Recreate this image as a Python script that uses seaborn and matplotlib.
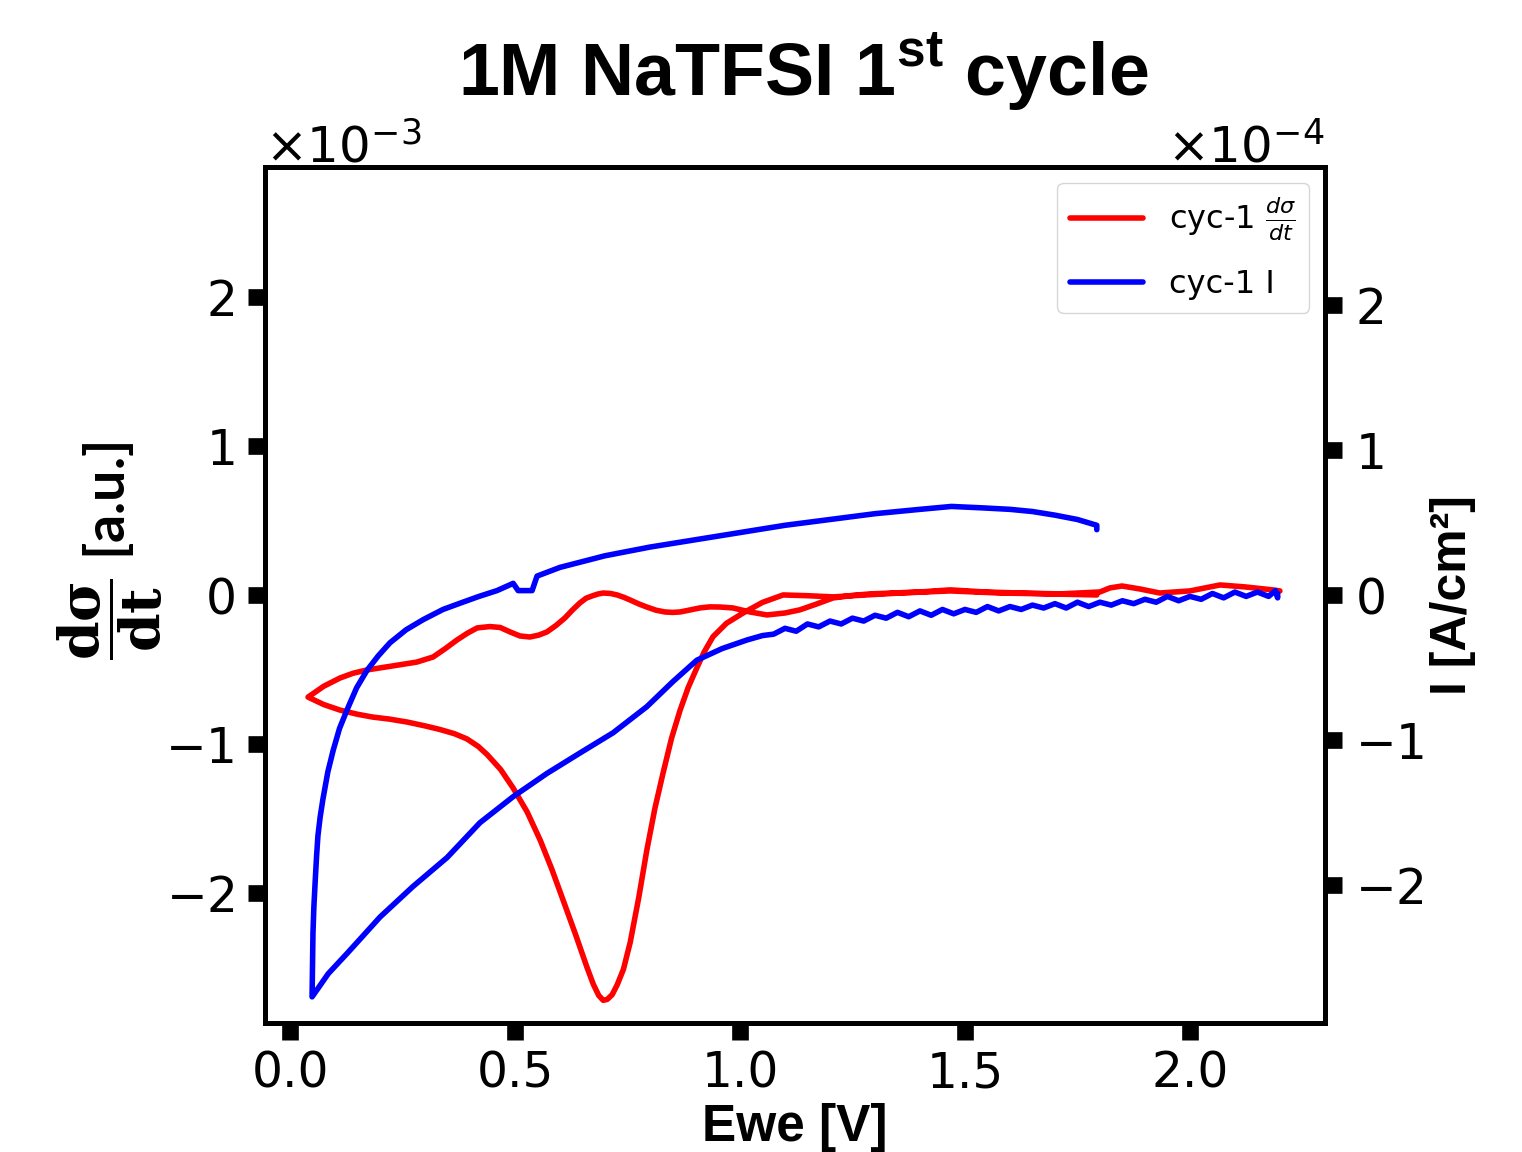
import matplotlib
matplotlib.use("Agg")
import matplotlib.pyplot as plt
import seaborn as sns
import pandas as pd
from matplotlib.ticker import ScalarFormatter

# ---- dσ/dt (x1e-3 a.u.) ----
# cathodic scan, written from 0.05 V upwards (reversed when plotted)
red_cath_v = [0.040, 0.075, 0.111, 0.140, 0.171, 0.230, 0.282, 0.318, 0.345, 0.371,
              0.395, 0.416, 0.444, 0.467, 0.489, 0.511, 0.533, 0.552, 0.571, 0.591,
              0.611, 0.628, 0.644, 0.658, 0.671, 0.684, 0.696, 0.712, 0.727, 0.742,
              0.756, 0.775, 0.793, 0.813, 0.833, 0.850, 0.867, 0.890, 0.911, 0.933,
              0.956, 0.984, 1.022, 1.060, 1.100, 1.133, 1.171, 1.207, 1.250, 1.289,
              1.340, 1.400, 1.467, 1.544, 1.622, 1.711, 1.800, 1.822, 1.849, 1.889,
              1.933, 2.000, 2.067, 2.122, 2.184, 2.200]
red_cath_s = [-0.685, -0.612, -0.557, -0.525, -0.503, -0.475, -0.450, -0.416, -0.360, -0.302,
              -0.255, -0.221, -0.212, -0.218, -0.248, -0.275, -0.282, -0.270, -0.248, -0.205,
              -0.154, -0.100, -0.054, -0.022, -0.007, 0.006, 0.013, 0.010, 0.000, -0.016,
              -0.034, -0.060, -0.081, -0.102, -0.114, -0.117, -0.114, -0.100, -0.087, -0.080,
              -0.081, -0.087, -0.114, -0.134, -0.121, -0.100, -0.060, -0.020, -0.003, 0.007,
              0.013, 0.020, 0.034, 0.020, 0.013, 0.007, 0.020, 0.047, 0.060, 0.040,
              0.013, 0.027, 0.067, 0.054, 0.034, 0.027]
# anodic scan from 0.05 V to 1.8 V
red_anod_v = [0.040, 0.075, 0.111, 0.150, 0.184, 0.220, 0.260, 0.300, 0.333, 0.365,
              0.393, 0.418, 0.438, 0.468, 0.496, 0.527, 0.556, 0.582, 0.607, 0.635,
              0.660, 0.674, 0.686, 0.696, 0.705, 0.716, 0.727, 0.741, 0.756, 0.775,
              0.793, 0.811, 0.829, 0.848, 0.867, 0.885, 0.904, 0.920, 0.940, 0.970,
              1.007, 1.050, 1.096, 1.150, 1.207, 1.280, 1.356, 1.467, 1.578, 1.689, 1.793]
red_anod_s = [-0.685, -0.735, -0.772, -0.800, -0.819, -0.832, -0.852, -0.878, -0.902, -0.930,
              -0.965, -1.015, -1.070, -1.170, -1.295, -1.455, -1.644, -1.840, -2.047, -2.280,
              -2.497, -2.610, -2.685, -2.718, -2.712, -2.680, -2.615, -2.510, -2.330, -2.030,
              -1.711, -1.430, -1.195, -0.960, -0.772, -0.620, -0.490, -0.385, -0.280, -0.190,
              -0.121, -0.050, 0.000, -0.005, -0.013, 0.000, 0.013, 0.027, 0.013, 0.007, 0.000]

# ---- current I (x1e-4 A/cm2) ----
blue_cath_v = [0.049, 0.085, 0.127, 0.165, 0.200, 0.273, 0.349, 0.422, 0.496, 0.571,
               0.644, 0.718, 0.793, 0.850, 0.904, 0.960, 1.016, 1.050, 1.075, 1.100,
               1.125, 1.150, 1.175, 1.200, 1.225, 1.250, 1.275, 1.300, 1.325, 1.350,
               1.375, 1.400, 1.425, 1.450, 1.475, 1.500, 1.525, 1.550, 1.575, 1.600,
               1.625, 1.650, 1.675, 1.700, 1.725, 1.750, 1.775, 1.800, 1.825, 1.850,
               1.875, 1.900, 1.925, 1.950, 1.975, 2.000, 2.025, 2.050, 2.075, 2.100,
               2.125, 2.150, 2.175, 2.190, 2.195, 2.195]
blue_cath_i = [-2.77, -2.61, -2.47, -2.34, -2.22, -2.01, -1.81, -1.57, -1.39, -1.23,
               -1.09, -0.95, -0.77, -0.60, -0.45, -0.37, -0.31, -0.28, -0.27, -0.23,
               -0.25, -0.20, -0.22, -0.18, -0.20, -0.16, -0.18, -0.14, -0.16, -0.12,
               -0.15, -0.11, -0.14, -0.10, -0.13, -0.10, -0.12, -0.08, -0.11, -0.08,
               -0.10, -0.07, -0.09, -0.06, -0.09, -0.05, -0.08, -0.05, -0.07, -0.04,
               -0.06, -0.03, -0.05, -0.01, -0.04, -0.01, -0.03, 0.01, -0.02, 0.02,
               -0.01, 0.02, -0.01, 0.03, -0.02, 0.01]
blue_anod_v = [0.049, 0.050, 0.051, 0.053, 0.056, 0.059, 0.062, 0.067, 0.073, 0.084,
               0.096, 0.110, 0.127, 0.148, 0.171, 0.196, 0.222, 0.258, 0.296, 0.340,
               0.384, 0.420, 0.460, 0.496, 0.507, 0.538, 0.549, 0.600, 0.650, 0.700,
               0.800, 0.900, 1.000, 1.100, 1.200, 1.300, 1.400, 1.470, 1.540, 1.600,
               1.650, 1.700, 1.750, 1.793, 1.793]
blue_anod_i = [-2.77, -2.55, -2.33, -2.15, -1.97, -1.80, -1.66, -1.53, -1.41, -1.22,
               -1.07, -0.92, -0.79, -0.64, -0.52, -0.42, -0.33, -0.24, -0.17, -0.10,
               -0.05, -0.01, 0.03, 0.08, 0.03, 0.03, 0.13, 0.19, 0.23, 0.27,
               0.33, 0.38, 0.43, 0.48, 0.52, 0.56, 0.59, 0.61, 0.60, 0.59,
               0.575, 0.55, 0.52, 0.48, 0.45]

red_df = pd.DataFrame({
    "Ewe": red_cath_v[::-1] + red_anod_v,
    "dsdt": [s * 1e-3 for s in red_cath_s[::-1] + red_anod_s],
})
blue_df = pd.DataFrame({
    "Ewe": blue_cath_v[::-1] + blue_anod_v,
    "I": [i * 1e-4 for i in blue_cath_i[::-1] + blue_anod_i],
})

sns.set_style("ticks", {"axes.edgecolor": "black", "xtick.color": "black",
                        "ytick.color": "black", "text.color": "black",
                        "axes.labelcolor": "black"})
plt.rcParams["font.family"] = ["DejaVu Sans"]
plt.rcParams["mathtext.fontset"] = "custom"
plt.rcParams["mathtext.rm"] = "DejaVu Sans"
plt.rcParams["mathtext.it"] = "DejaVu Sans:italic"
plt.rcParams["mathtext.bf"] = "DejaVu Serif:bold"
plt.rcParams["mathtext.sf"] = "Liberation Sans:bold"

fig = plt.figure(figsize=(15.22, 11.52), dpi=100)
ax = fig.add_axes([0.174, 0.112, 0.6965, 0.7431])
ax2 = ax.twinx()

sns.lineplot(data=red_df, x="Ewe", y="dsdt", ax=ax, sort=False, estimator=None,
             color="#ff0000", linewidth=4, label=r"cyc-1 $\frac{d\sigma}{dt}$", legend=False)
sns.lineplot(data=blue_df, x="Ewe", y="I", ax=ax2, sort=False, estimator=None,
             color="#0000ff", linewidth=4, label="cyc-1 I", legend=False)

ax.set_xlim(-0.056, 2.3)
ax.set_xticks([0.0, 0.5, 1.0, 1.5, 2.0])
ax.set_ylim(-2.87e-3, 2.87e-3)
ax.set_yticks([-2e-3, -1e-3, 0, 1e-3, 2e-3])
ax2.set_ylim(-2.95e-4, 2.95e-4)
ax2.set_yticks([-2e-4, -1e-4, 0, 1e-4, 2e-4])

for a in (ax, ax2):
    fmt = ScalarFormatter(useMathText=True)
    fmt.set_powerlimits((-2, 2))
    a.yaxis.set_major_formatter(fmt)
    a.yaxis.get_offset_text().set_fontsize(36)
    for sp in a.spines.values():
        sp.set_linewidth(3.5)
        sp.set_visible(True)
    a.tick_params(axis="both", direction="out", length=12, width=12, labelsize=35)
    a.tick_params(axis="x", pad=7)
    a.tick_params(axis="y", pad=10)

ax.set_xlabel("Ewe [V]", fontsize=37, fontweight="bold", family="Liberation Sans")
ax.set_ylabel(r"$\dfrac{\mathbf{d\sigma}}{\mathbf{dt}}$ [a.u.]", fontsize=40,
              fontweight="bold", family="Lato")
ax.yaxis.set_label_coords(-0.094, 0.551)
ax2.set_ylabel("I [A/cm²]", fontsize=36, fontweight="bold", family="Liberation Sans")

h1, l1 = ax.get_legend_handles_labels()
h2, l2 = ax2.get_legend_handles_labels()
ax2.legend(h1 + h2, l1 + l2, loc="upper right", fontsize=23, handlelength=2.3,
           labelspacing=0.8)

fig.text(0.528, 1 - 95 / 1152, r"1M NaTFSI 1$^{\mathsf{st}}$ cycle", fontsize=53,
         fontweight="bold", family="Liberation Sans", ha="center", va="baseline")

fig.savefig("out.png", dpi=100)
